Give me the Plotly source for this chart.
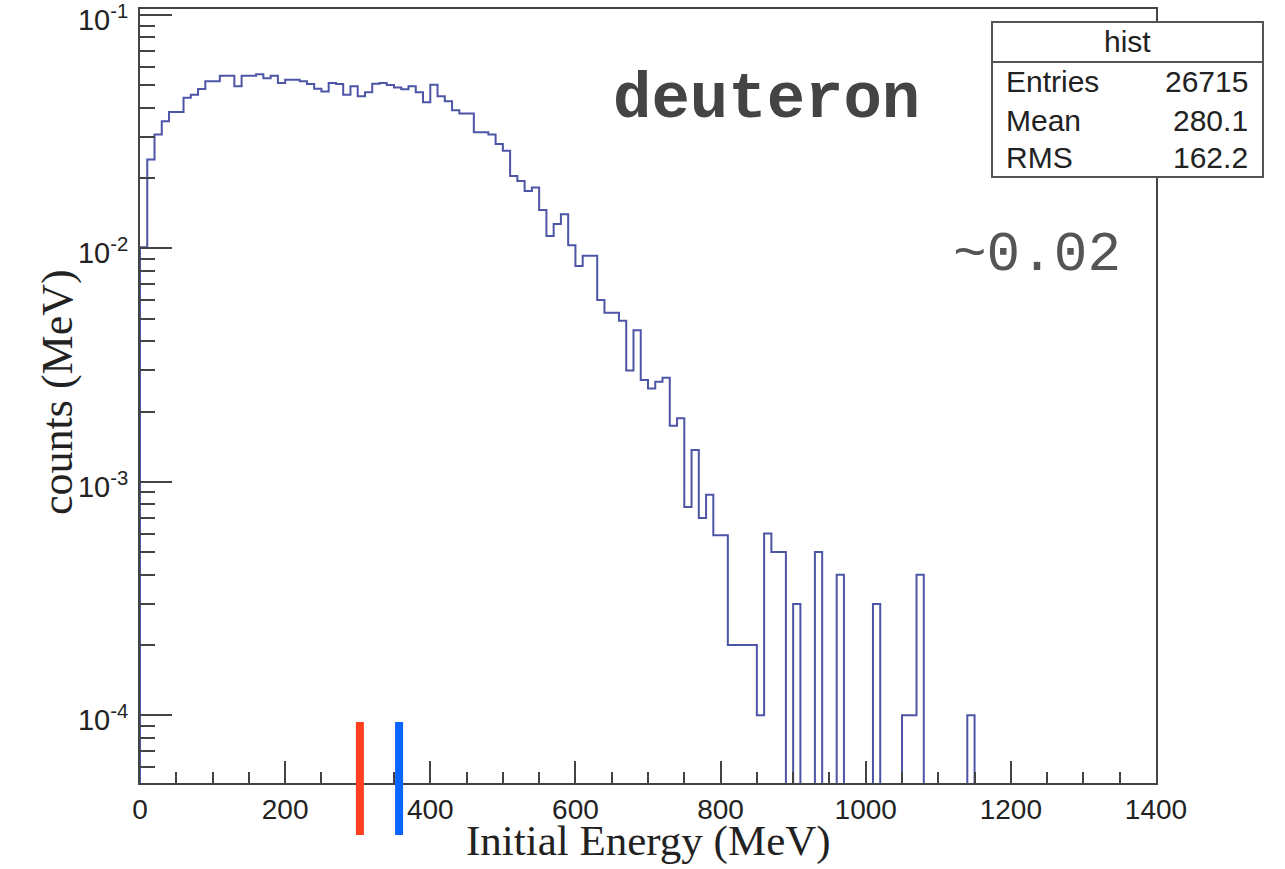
import numpy as np
import plotly.graph_objects as go

# ---------------- data ----------------
bin_width = 10.0          # MeV
e_min, e_max = 0.0, 1400.0

# bin contents (per 10 MeV bin, starting at 0 MeV)
counts = [
    0.0101, 0.0240, 0.0307, 0.0350, 0.0384, 0.0384, 0.0441, 0.0455, 0.0481, 0.0519,    # 0-90
    0.0519, 0.0548, 0.0548, 0.0494, 0.0548, 0.0548, 0.0556, 0.0535, 0.0548, 0.0510,    # 100-190
    0.0527, 0.0527, 0.0519, 0.0505, 0.0482, 0.0470, 0.0510, 0.0506, 0.0455, 0.0494,    # 200-290
    0.0448, 0.0466, 0.0507, 0.0510, 0.0500, 0.0488, 0.0480, 0.0494, 0.0466, 0.0422,    # 300-390
    0.0502, 0.0448, 0.0427, 0.0390, 0.0378, 0.0378, 0.0314, 0.0314, 0.0307, 0.0280,    # 400-490
    0.0262, 0.0204, 0.0194, 0.0176, 0.0182, 0.0146, 0.0113, 0.0127, 0.0140, 0.0103,    # 500-590
    0.0084, 0.0093, 0.0093, 0.0060, 0.0053, 0.0053, 0.0049, 0.0030, 0.00446, 0.00273,  # 600-690
    0.00251, 0.00268, 0.00279, 0.00174, 0.00187, 0.00078, 0.00137, 0.00070, 0.00088, 0.00059,  # 700-790
    0.00059, 0.0002, 0.0002, 0.0002, 0.0002, 0.0001, 0.0006, 0.0005, 0.0005, 0.0,      # 800-890
    0.0003, 0.0, 0.0, 0.0005, 0.0, 0.0, 0.0004, 0.0, 0.0, 0.0,                         # 900-990
    0.0, 0.0003, 0.0, 0.0, 0.0, 0.0001, 0.0001, 0.0004, 0.0, 0.0,                      # 1000-1090
    0.0, 0.0, 0.0, 0.0, 0.0001, 0.0,                                                   # 1100-1150
]

x_tick_vals = [0, 200, 400, 600, 800, 1000, 1200, 1400]
y_tick_vals = [1e-4, 1e-3, 1e-2, 1e-1]
y_tick_text = ["10<sup>-4</sup>", "10<sup>-3</sup>", "10<sup>-2</sup>", "10<sup>-1</sup>"]
y_log_range = [-4.29, -0.975]

marker_energies = [303, 357]          # MeV (vertical coloured markers)
marker_colors = ["#ff4020", "#0a64ff"]

stats_title = "hist"
stats_names = ["Entries", "Mean", "RMS"]
stats_values = ["26715", "280.1", "162.2"]

particle_label = "deuteron"
ratio_label = "~0.02"

# ---------------- figure ----------------
floor = 1e-7  # empty bins drop below the visible axis range (like ROOT)
n = len(counts)
edges = e_min + bin_width * np.arange(n + 1)
yvals = [c if c > 0 else floor for c in counts]
xs = [e_min] + list(edges)
ys = [floor] + yvals + [yvals[-1]]

fig = go.Figure()
fig.add_trace(go.Scatter(
    x=xs, y=ys, mode="lines", line=dict(color="#4d55a6", width=2, shape="hv"),
    hoverinfo="skip", showlegend=False,
))

axis_color = "#444444"
tick_font = dict(family="Liberation Sans, Arial, sans-serif", size=28, color="#222222")

fig.update_xaxes(
    type="linear", range=[e_min, e_max], automargin=False,
    tickmode="array", tickvals=x_tick_vals,
    ticks="inside", ticklen=22, tickwidth=1.5, tickcolor=axis_color,
    minor=dict(dtick=50, tick0=0, ticks="inside", ticklen=11, tickwidth=1.5, tickcolor=axis_color),
    showline=True, linecolor=axis_color, linewidth=2, mirror=True,
    showgrid=False, zeroline=False, tickfont=tick_font,
)

minor_y = [k * 10.0 ** e for e in range(-5, -1) for k in range(2, 10)]
fig.update_yaxes(
    type="log", range=y_log_range, automargin=False,
    tickmode="array", tickvals=y_tick_vals, ticktext=y_tick_text,
    ticks="inside", ticklen=32, tickwidth=1.5, tickcolor=axis_color,
    minor=dict(tickmode="array", tickvals=minor_y, ticks="inside", ticklen=15,
               tickwidth=1.5, tickcolor=axis_color),
    showline=True, linecolor=axis_color, linewidth=2, mirror=True,
    showgrid=False, zeroline=False, tickfont=dict(tick_font, size=29),
    ticklabeloverflow="allow", ticklabelshift=5, ticklabelstandoff=4,
)

# plot area in pixels: x 140..1156, y 9..783
L, R, T, B = 140, 1156, 9, 783
W, H = R - L, B - T


def px(xp):
    return (xp - L) / W


def py(yp):
    return (B - yp) / H


shapes = []
for e, c in zip(marker_energies, marker_colors):
    shapes.append(dict(type="line", xref="x", yref="paper", x0=e, x1=e,
                       y0=py(835), y1=py(722), line=dict(color=c, width=8)))

# stats box
bx0, bx1, by0, by1, bsep = 992, 1263, 22, 177, 62
shapes.append(dict(type="rect", xref="paper", yref="paper",
                   x0=px(bx0), x1=px(bx1), y0=py(by1), y1=py(by0),
                   fillcolor="white", line=dict(color="#555555", width=2), layer="above"))
shapes.append(dict(type="line", xref="paper", yref="paper",
                   x0=px(bx0), x1=px(bx1), y0=py(bsep), y1=py(bsep),
                   line=dict(color="#555555", width=2)))

stat_font = dict(family="Liberation Sans, Arial, sans-serif", size=30, color="#222222")
annotations = [
    dict(text=stats_title, xref="paper", yref="paper", x=px((bx0 + bx1) / 2), y=py(42),
         xanchor="center", yanchor="middle", showarrow=False, font=stat_font),
]
row_y = [81, 120, 158]
for name, val, ry in zip(stats_names, stats_values, row_y):
    annotations.append(dict(text=name, xref="paper", yref="paper", x=px(1004), y=py(ry),
                            xanchor="left", yanchor="middle", showarrow=False, font=stat_font))
    annotations.append(dict(text=val, xref="paper", yref="paper", x=px(1250), y=py(ry),
                            xanchor="right", yanchor="middle", showarrow=False, font=stat_font))

annotations.append(dict(text="<b>" + particle_label + "</b>", xref="paper", yref="paper",
                        x=px(766), y=py(100), xanchor="center", yanchor="middle", showarrow=False,
                        font=dict(family="Liberation Mono, Courier New, monospace", size=64, color="#444444")))
annotations.append(dict(text=ratio_label, xref="paper", yref="paper",
                        x=px(1037), y=py(255), xanchor="center", yanchor="middle", showarrow=False,
                        font=dict(family="Liberation Mono, Courier New, monospace", size=56, color="#555555")))

serif = dict(family="Liberation Serif, Times New Roman, serif", size=43, color="#222222")
annotations.append(dict(text="Initial Energy (MeV)", xref="paper", yref="paper",
                        x=px(648), y=py(841), xanchor="center", yanchor="middle",
                        showarrow=False, font=serif))
annotations.append(dict(text="counts (MeV)", xref="paper", yref="paper", textangle=-90,
                        x=px(58), y=py(392), xanchor="center", yanchor="middle",
                        showarrow=False, font=dict(serif, size=44)))

fig.update_layout(
    width=1285, height=869,
    margin=dict(l=L, r=1285 - R, t=T, b=869 - B, autoexpand=False),
    paper_bgcolor="white", plot_bgcolor="white",
    showlegend=False, shapes=shapes, annotations=annotations,
)

fig.write_html("out.html", include_plotlyjs=True, full_html=True,
               config={"displayModeBar": False},
               post_script="document.body.style.margin='0';")
